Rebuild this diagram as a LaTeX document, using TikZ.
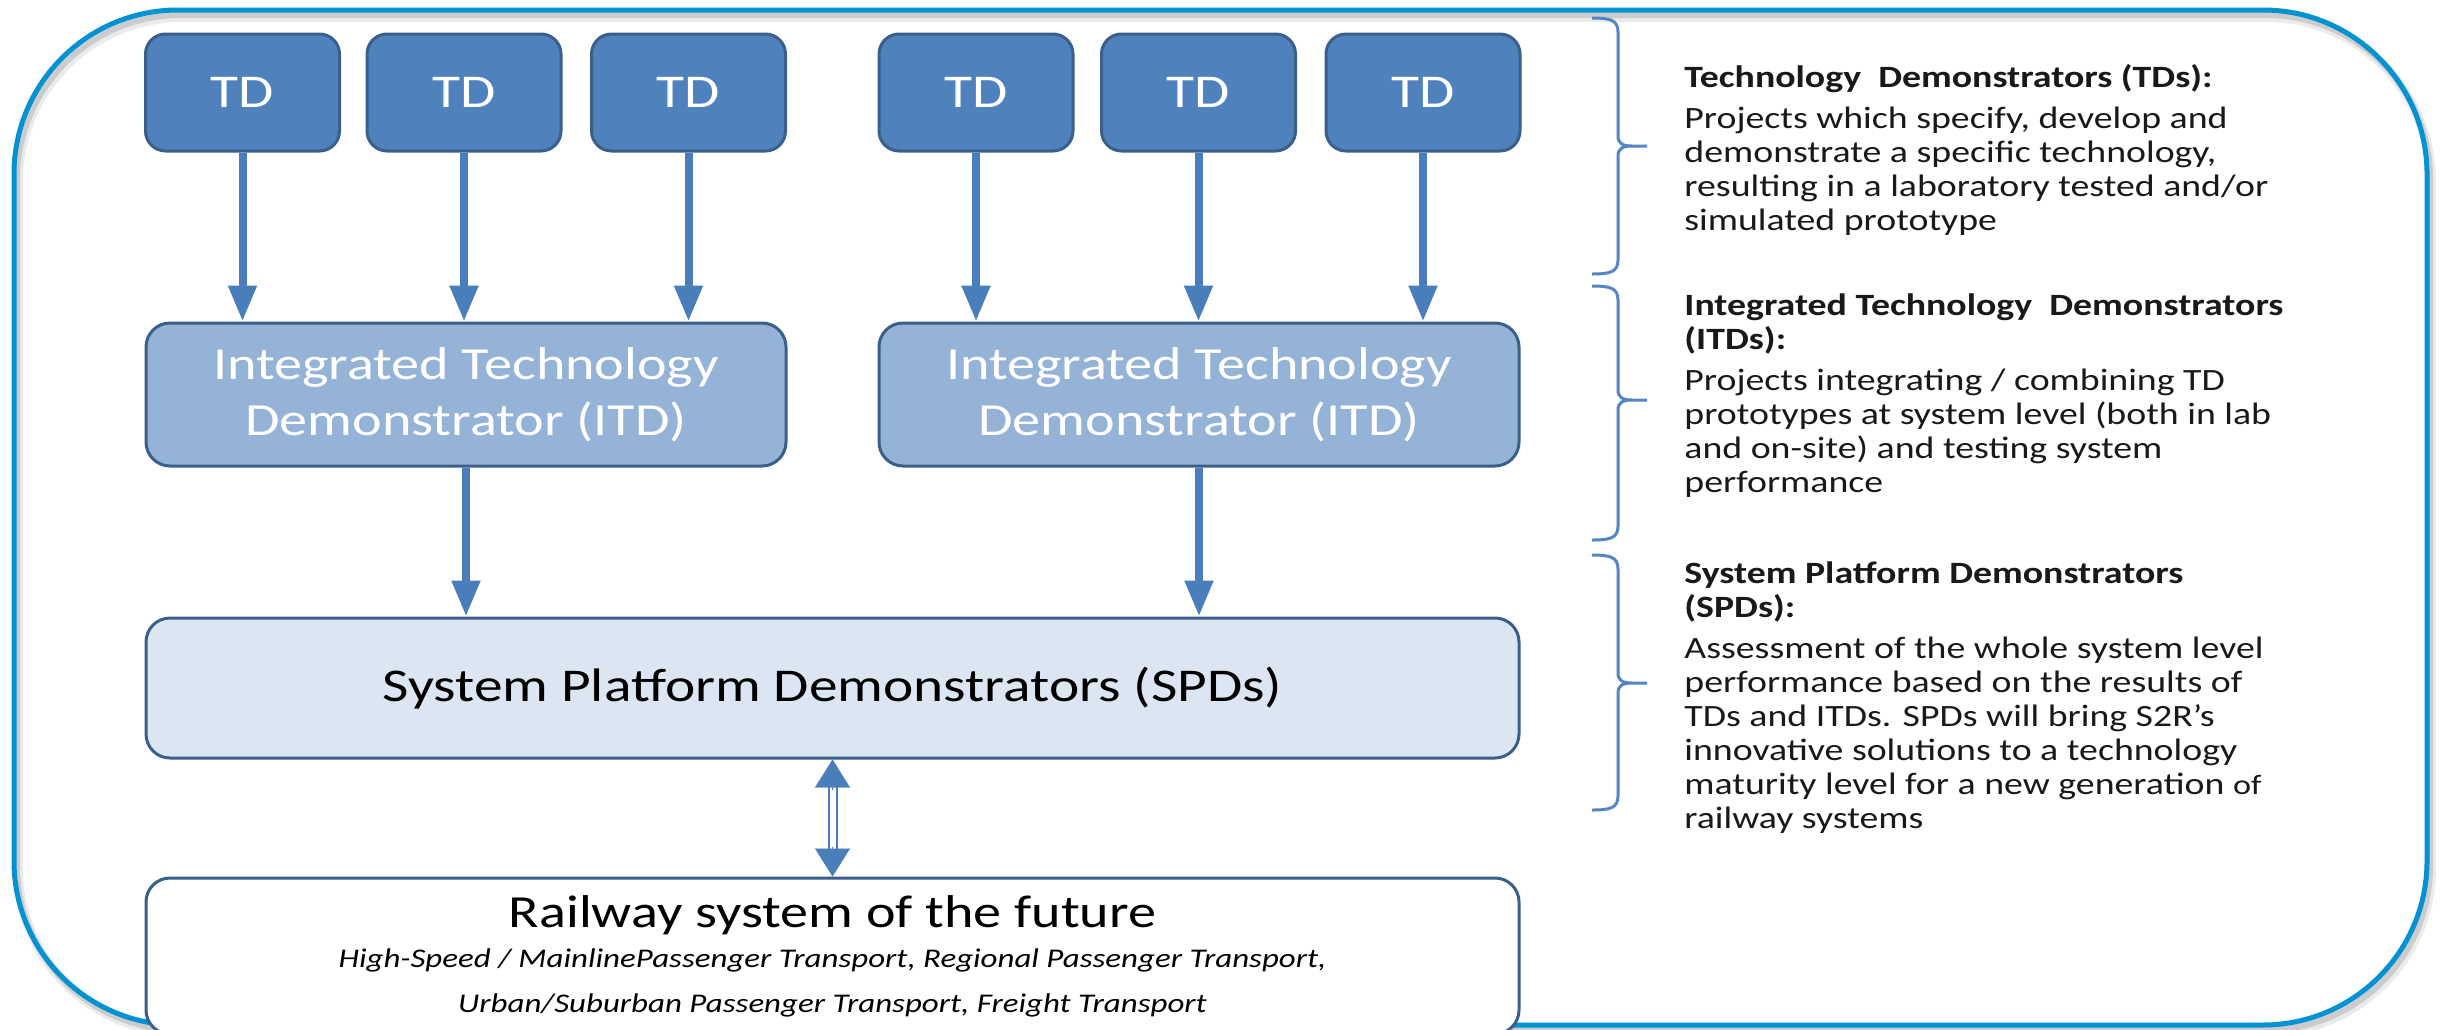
\documentclass[tikz,border=0pt]{standalone}
\usepackage{fontspec}
\setmainfont{Carlito}[FakeStretch=1.22]
\usetikzlibrary{arrows.meta}
\definecolor{tdfill}{HTML}{4F81BD}
\definecolor{itdfill}{HTML}{95B3D7}
\definecolor{spdfill}{HTML}{DCE6F2}
\definecolor{bordercol}{HTML}{3A5F8B}
\definecolor{arrowcol}{HTML}{4A7EBB}
\definecolor{bracecol}{HTML}{5585C2}
\definecolor{framecol}{HTML}{0092D2}
\newcommand\sidebrace[3]{%
  \draw[brace] (1592,#1) .. controls (1610,#1) and (1618,#1+2) .. (1618,#1+14)
    -- (1618,#2-10) .. controls (1618,#2-3) and (1622,#2) .. (1632,#2) -- (1647,#2)
    (1632,#2) .. controls (1622,#2) and (1618,#2+3) .. (1618,#2+10)
    -- (1618,#3-14) .. controls (1618,#3-2) and (1610,#3) .. (1592,#3);}
\newcommand\firststrut{\rule{0pt}{12pt}}
\begin{document}
\begin{tikzpicture}[x=0.5pt,y=-0.5pt,
  box/.style={draw=bordercol, line width=1.5pt, rounded corners=10pt, inner sep=0pt, align=center},
  tdbox/.style={box, fill=tdfill, minimum width=97pt, minimum height=58.5pt, text=white,
    font=\fontsize{23.5}{28}\selectfont},
  itdbox/.style={box, fill=itdfill, minimum width=320pt, minimum height=71.5pt, text=white,
    rounded corners=12pt, font=\fontsize{23}{28}\selectfont},
  spdbox/.style={box, fill=spdfill, minimum width=686.5pt, minimum height=70pt,
    rounded corners=12pt, font=\fontsize{23.5}{28}\selectfont},
  railbox/.style={box, fill=white, minimum width=686.5pt, minimum height=78pt, rounded corners=12pt},
  arr/.style={draw=arrowcol, line width=4pt, -{Triangle[length=18pt,width=13.5pt]}},
  dblshaft/.style={draw=arrowcol, double=white, double distance=3pt, line width=1pt},
  tipup/.style={draw=arrowcol, fill=arrowcol, line width=0.1pt, -{Triangle[length=14pt,width=17.5pt]}},
  brace/.style={draw=bracecol, line width=1.5pt},
  rtext/.style={align=left, inner sep=0pt, anchor=north west, font=\fontsize{15.5}{17}\selectfont, text=black!90},
  plain/.style={inner sep=0pt},
]
\useasboundingbox (0,0) rectangle (2440,1029);
\clip (0,0) rectangle (2440,1029);
\fill[white] (0,0) rectangle (2440,1029);
% frame with soft shadow
\draw[line width=5pt, draw=black!8, rounded corners=82pt] (18,17) rectangle (2431,1032);
\draw[line width=3pt, draw=black!20, rounded corners=82pt] (17,15) rectangle (2430,1030);
\draw[line width=2.5pt, draw=framecol, rounded corners=82pt] (14,10) rectangle (2427,1025);

% TD boxes
\node[tdbox] (td1) at (242.5,92.5) {TD};
\node[tdbox] (td2) at (464,92.5) {TD};
\node[tdbox] (td3) at (688.5,92.5) {TD};
\node[tdbox] (td4) at (976,92.5) {TD};
\node[tdbox] (td5) at (1198.5,92.5) {TD};
\node[tdbox] (td6) at (1423,92.5) {TD};

% ITD boxes
\node[itdbox] (itd1) at (466,394.5) {Integrated Technology\\Demonstrator (ITD)};
\node[itdbox] (itd2) at (1199,394.5) {Integrated Technology\\Demonstrator (ITD)};

% SPD box
\node[spdbox] (spd) at (832.5,688) {System Platform Demonstrators (SPDs)};

% Railway box
\node[railbox] (rail) at (832.5,956) {};
\node[plain, anchor=base, font=\fontsize{23}{28}\selectfont] (railtitle) at (832.5,927) {Railway system of the future};
\node[plain, anchor=base, font=\fontsize{13.5}{16}\selectfont\itshape] (railsub1) at (832.5,967)
  {High-Speed / MainlinePassenger Transport, Regional Passenger Transport,};
\node[plain, anchor=base, font=\fontsize{13.5}{16}\selectfont\itshape] (railsub2) at (832.5,1012)
  {Urban/Suburban Passenger Transport, Freight Transport};

% arrows TD -> ITD
\foreach \t/\i in {td1/itd1, td2/itd1, td3/itd1, td4/itd2, td5/itd2, td6/itd2}
  \draw[arr] (\t.south) -- (\t.south |- \i.north);
% arrows ITD -> SPD
\draw[arr] (itd1.south) -- (itd1.south |- spd.north);
\draw[arr] (itd2.south) -- (itd2.south |- spd.north);
% double arrow SPD <-> Railway
\coordinate (dtop) at (spd.south);
\coordinate (dbot) at (spd.south |- rail.north);
\draw[dblshaft] ([shift={(0,24)}]dtop) -- ([shift={(0,-24)}]dbot);
\draw[tipup] ([shift={(0,30)}]dtop) -- (dtop);
\draw[tipup] ([shift={(0,-30)}]dbot) -- (dbot);

% braces
\sidebrace{18}{146}{274}
\sidebrace{286}{400}{540}
\sidebrace{555}{683}{810}

% right-hand texts
\node[rtext] (tdtext) at (1684,63)
  {\firststrut\textbf{Technology\ \ Demonstrators (TDs):}\\[3.5pt]
   Projects which specify, develop and\\
   demonstrate a specific technology,\\
   resulting in a laboratory tested and/or\\
   simulated prototype};
\node[rtext] (itdtext) at (1684,291)
  {\firststrut\textbf{Integrated Technology\ \ Demonstrators}\\
   \textbf{(ITDs):}\\[3.5pt]
   Projects integrating / combining TD\\
   prototypes at system level (both in lab\\
   and on-site) and testing system\\
   performance};
\node[rtext] (spdtext) at (1684,559)
  {\firststrut\textbf{System Platform Demonstrators}\\
   \textbf{(SPDs):}\\[3.5pt]
   Assessment of the whole system level\\
   performance based on the results of\\
   TDs and ITDs. SPDs will bring S2R's\\
   innovative solutions to a technology\\
   maturity level for a new generation {\fontsize{14}{17}\selectfont of}\\
   railway systems};
\end{tikzpicture}
\end{document}
